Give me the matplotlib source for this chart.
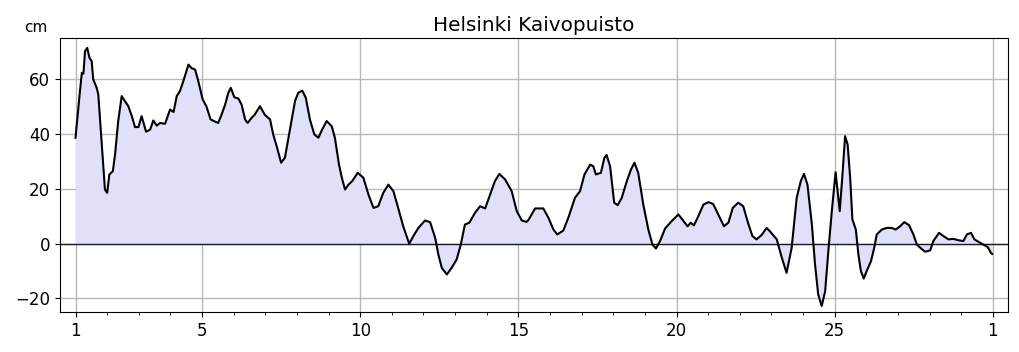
import numpy as np
import matplotlib
matplotlib.use('Agg')
import matplotlib.pyplot as plt

# vedenkorkeus (cm), aika päivinä helmikuun alusta (1 = 1.2. klo 00)
days = [1.0, 1.14, 1.2, 1.25, 1.3, 1.37, 1.44, 1.51, 1.56, 1.67, 1.72, 1.83, 1.93, 2.0,
        2.07, 2.18, 2.25, 2.35, 2.46, 2.56, 2.67, 2.78, 2.88, 2.99, 3.09, 3.23, 3.36,
        3.46, 3.57, 3.67, 3.83, 3.99, 4.1, 4.2, 4.3, 4.41, 4.57, 4.67, 4.78, 4.88, 5.02,
        5.14, 5.27, 5.41, 5.51, 5.62, 5.73, 5.83, 5.91, 6.02, 6.15, 6.25, 6.36, 6.44,
        6.57, 6.67, 6.83, 6.99, 7.15, 7.25, 7.36, 7.5, 7.62, 7.75, 7.94, 8.04, 8.17,
        8.28, 8.41, 8.55, 8.68, 8.78, 8.94, 9.1, 9.2, 9.33, 9.42, 9.52, 9.63, 9.75,
        9.92, 10.1, 10.26, 10.42, 10.57, 10.73, 10.89, 11.05, 11.2, 11.36, 11.55, 11.68,
        11.84, 12.05, 12.21, 12.37, 12.47, 12.58, 12.74, 12.89, 13.05, 13.18, 13.31,
        13.45, 13.63, 13.79, 13.95, 14.11, 14.26, 14.4, 14.58, 14.79, 14.95, 15.11,
        15.26, 15.32, 15.53, 15.79, 15.95, 16.11, 16.23, 16.42, 16.58, 16.79, 16.95,
        17.09, 17.27, 17.37, 17.45, 17.61, 17.72, 17.79, 17.9, 18.03, 18.14, 18.27,
        18.43, 18.56, 18.67, 18.79, 18.95, 19.11, 19.24, 19.35, 19.48, 19.64, 19.85,
        20.06, 20.22, 20.35, 20.45, 20.55, 20.69, 20.85, 21.01, 21.16, 21.32, 21.5,
        21.64, 21.78, 21.95, 22.11, 22.26, 22.4, 22.53, 22.69, 22.85, 22.95, 23.17,
        23.33, 23.48, 23.64, 23.8, 23.93, 24.03, 24.14, 24.28, 24.38, 24.48, 24.59,
        24.7, 24.8, 24.91, 25.03, 25.16, 25.24, 25.33, 25.41, 25.49, 25.56, 25.67,
        25.75, 25.83, 25.92, 26.01, 26.15, 26.25, 26.33, 26.49, 26.65, 26.8, 26.93,
        27.07, 27.2, 27.35, 27.49, 27.6, 27.73, 27.86, 28.02, 28.12, 28.3, 28.44, 28.6,
        28.75, 28.91, 29.07, 29.18, 29.31, 29.42, 29.55, 29.7, 29.84, 29.94, 29.98]
level = [38.6, 55.6, 62.3, 62.0, 70.2, 71.4, 67.8, 66.6, 59.9, 56.8, 54.4, 36.1, 19.7, 18.5,
         25.2, 26.4, 32.5, 44.7, 53.8, 52.0, 50.1, 46.5, 42.5, 42.5, 46.5, 40.8, 41.6,
         44.9, 43.0, 44.0, 43.7, 48.9, 48.0, 53.8, 55.6, 59.3, 65.3, 64.0, 63.5, 59.3, 52.6,
         50.0, 45.3, 44.5, 44.0, 47.1, 50.7, 55.0, 56.8, 53.4, 52.9, 50.7, 45.3, 44.0,
         45.9, 47.1, 50.1, 46.9, 45.3, 39.8, 35.5, 29.5, 31.3, 39.8, 52.0, 55.0, 55.8,
         53.2, 45.3, 39.8, 38.6, 41.2, 44.7, 42.8, 38.6, 28.8, 24.0, 19.7, 21.5, 22.8,
         25.8, 24.0, 17.9, 13.0, 13.6, 18.5, 21.5, 19.1, 13.0, 6.3, -0.1, 2.7,
         5.7, 8.4, 7.8, 2.1, -4.0, -8.9, -11.3, -8.9, -5.8, -0.4, 6.9,
         7.6, 11.2, 13.6, 12.8, 17.9, 22.8, 25.4, 23.4, 19.1, 11.8, 8.4,
         7.9, 8.6, 12.8, 12.8, 9.4, 5.1, 3.3, 4.7, 9.4, 16.7, 19.1,
         25.2, 28.8, 28.2, 25.2, 25.8, 31.3, 32.3, 28.2, 14.9, 14.0, 16.7,
         22.8, 27.0, 29.5, 25.8, 14.2, 5.1, -0.4, -1.8, 0.9, 5.5, 8.2,
         10.6, 8.2, 6.3, 7.6, 6.6, 10.0, 14.2, 15.1, 14.4, 10.6, 6.3,
         7.6, 13.0, 14.9, 13.6, 7.6, 2.7, 1.5, 3.1, 5.7, 4.5, 1.5,
         -5.2, -10.7, -1.6, 16.7, 22.8, 25.4, 21.5, 6.9, -7.7, -18.6, -22.8,
         -17.4, -2.8, 11.8, 26.0, 11.8, 24.0, 39.2, 36.1, 24.0, 8.8, 5.1,
         -4.0, -10.1, -12.8, -10.1, -6.4, -1.6, 3.3, 5.1, 5.7, 5.7, 5.1,
         6.3, 7.8, 6.7, 3.3, -0.4, -1.8, -3.0, -2.5, 0.9, 3.9, 2.7, 1.5,
         1.7, 1.2, 0.9, 3.3, 3.9, 1.5, 0.6, -0.4, -1.3, -3.4, -3.8]

tick_days = [1, 5, 10, 15, 20, 25, 30]
tick_labels = ['1', '5', '10', '15', '20', '25', '1']

fig = plt.figure(figsize=(10.19, 3.52), dpi=100)
ax = fig.add_axes([0.0589, 0.1136, 0.9303, 0.7784])

ax.fill_between(days, level, 0, color='#e0e0fa', linewidth=0)
ax.axhline(0, color='#1a1a2e', linewidth=1.0, zorder=2)
ax.plot(days, level, color='black', linewidth=1.5, zorder=3)

ax.set_xlim(0.51, 30.48)
ax.set_ylim(-25, 75)
ax.set_xticks(tick_days)
ax.set_xticklabels(tick_labels)
ax.set_xticks(np.arange(1, 31), minor=True)
ax.set_yticks([-20, 0, 20, 40, 60])
ax.tick_params(labelsize=12)
ax.grid(True, which='major', color='#b8b8b8', linewidth=1.0)
ax.set_axisbelow(True)

ax.set_title('Helsinki Kaivopuisto', fontsize=14.4, pad=5)
ax.text(-0.026, 1.04, 'cm', transform=ax.transAxes, ha='center', va='center', fontsize=11)

fig.savefig('out.png', dpi=100)
